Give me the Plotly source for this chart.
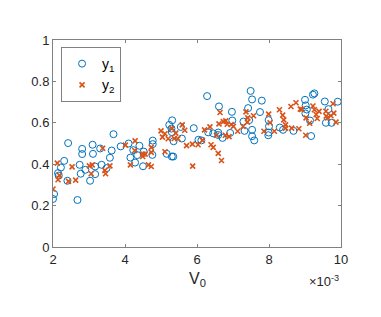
import plotly.graph_objects as go

# V0 values in units of 1e-3
y1_x = [2.00, 2.03, 2.16, 2.14, 2.22, 2.31, 2.42, 2.40, 2.68, 2.74, 2.77, 2.81, 2.81, 2.90,
        3.03, 3.10, 3.11, 3.17, 3.17, 3.31, 3.35, 3.49, 3.58, 3.63, 3.68, 3.88, 4.10, 4.15,
        4.23, 4.28, 4.34, 4.40, 4.50, 4.52, 4.76, 4.77, 4.77, 5.16, 5.23, 5.29, 5.31, 5.30,
        5.34, 5.35, 5.30, 5.55, 5.58, 5.91, 6.04, 6.12, 6.28, 6.31, 6.45, 6.59, 6.61, 6.59,
        6.71, 6.92, 6.98, 6.97, 7.29, 7.32, 7.42, 7.45, 7.49, 7.53, 7.53, 7.53, 7.59, 7.75,
        7.80, 7.99, 8.00, 7.99, 7.98, 8.30, 8.39, 8.68, 9.00, 9.02, 9.01, 9.05, 9.14, 9.17,
        9.22, 9.26, 9.55, 9.65, 9.58, 9.74, 9.91]
y1_y = [0.232, 0.256, 0.345, 0.357, 0.384, 0.416, 0.502, 0.320, 0.227, 0.397, 0.354, 0.474,
        0.449, 0.373, 0.320, 0.494, 0.450, 0.352, 0.389, 0.476, 0.397, 0.381, 0.431, 0.466,
        0.545, 0.486, 0.500, 0.432, 0.468, 0.408, 0.444, 0.489, 0.390, 0.461, 0.445, 0.497,
        0.514, 0.450, 0.590, 0.572, 0.612, 0.437, 0.437, 0.511, 0.555, 0.580, 0.524, 0.574,
        0.518, 0.515, 0.729, 0.554, 0.549, 0.553, 0.679, 0.541, 0.527, 0.551, 0.611, 0.653,
        0.606, 0.561, 0.671, 0.613, 0.754, 0.713, 0.566, 0.535, 0.515, 0.652, 0.707, 0.613,
        0.583, 0.553, 0.540, 0.577, 0.566, 0.561, 0.711, 0.684, 0.645, 0.664, 0.611, 0.536,
        0.736, 0.742, 0.703, 0.666, 0.600, 0.600, 0.702]

y2_x = [2.00, 2.12, 2.14, 2.18, 2.43, 2.53, 2.63, 3.01, 3.06, 3.09, 3.38, 3.44, 3.46, 3.58,
        4.01, 4.15, 4.28, 4.27, 4.49, 4.56, 4.50, 4.65, 4.73, 4.73, 4.73, 5.00, 5.04, 5.11,
        5.11, 5.20, 5.30, 5.41, 5.37, 5.47, 5.59, 5.66, 5.71, 5.87, 5.88, 6.03, 6.15, 6.21,
        6.36, 6.39, 6.45, 6.54, 6.59, 6.64, 6.61, 6.68, 6.73, 6.80, 6.79, 6.84, 6.89, 6.95,
        7.01, 7.13, 7.28, 7.36, 7.40, 7.41, 7.57, 7.86, 7.99, 8.03, 8.15, 8.29, 8.38, 8.41,
        8.46, 8.46, 8.63, 8.61, 8.75, 8.83, 8.87, 8.91, 9.03, 9.02, 9.13, 9.22, 9.26, 9.31,
        9.34, 9.39, 9.58, 9.59, 9.63, 9.72, 9.80, 9.78, 9.86]
y2_y = [0.280, 0.405, 0.325, 0.346, 0.317, 0.387, 0.323, 0.392, 0.354, 0.397, 0.477, 0.370,
        0.354, 0.392, 0.492, 0.397, 0.513, 0.466, 0.437, 0.449, 0.449, 0.397, 0.389, 0.481,
        0.457, 0.561, 0.531, 0.547, 0.460, 0.523, 0.572, 0.550, 0.524, 0.523, 0.590, 0.564,
        0.490, 0.497, 0.391, 0.494, 0.515, 0.566, 0.580, 0.494, 0.481, 0.540, 0.452, 0.650,
        0.595, 0.418, 0.606, 0.609, 0.540, 0.593, 0.533, 0.592, 0.583, 0.559, 0.582, 0.653,
        0.603, 0.624, 0.634, 0.559, 0.642, 0.600, 0.559, 0.663, 0.637, 0.614, 0.590, 0.574,
        0.574, 0.679, 0.697, 0.571, 0.666, 0.664, 0.624, 0.540, 0.598, 0.681, 0.663, 0.640,
        0.621, 0.655, 0.656, 0.632, 0.624, 0.634, 0.647, 0.692, 0.603]

x_ticks = [2, 4, 6, 8, 10]
x_tick_labels = ["2", "4", "6", "8", "10"]
y_ticks = [0, 0.2, 0.4, 0.6, 0.8, 1]
y_tick_labels = ["0", "0.2", "0.4", "0.6", "0.8", "1"]

FONT = "Liberation Sans, Arial, Helvetica, sans-serif"
AX = "#262626"
LINE = "#808080"

fig = go.Figure()
fig.add_trace(go.Scatter(
    x=y1_x, y=y1_y, mode="markers", name="y<sub>1</sub>",
    marker=dict(symbol="circle-open", size=7, color="#0072BD", line=dict(width=1, color="#0072BD")),
))
fig.add_trace(go.Scatter(
    x=y2_x, y=y2_y, mode="markers", name="y<sub>2</sub>",
    marker=dict(symbol="x-thin-open", size=5, color="#D95319", line=dict(width=1.6, color="#D95319")),
))

axis_common = dict(
    showline=True, linecolor=LINE, linewidth=1, mirror="ticks",
    ticks="inside", ticklen=3, tickcolor=LINE, tickwidth=1,
    showgrid=False, zeroline=False,
    tickfont=dict(family=FONT, size=13, color=AX),
)
fig.update_xaxes(range=[2, 10], tickvals=x_ticks, ticktext=x_tick_labels, **axis_common)
fig.update_yaxes(range=[0, 1], tickvals=y_ticks, ticktext=y_tick_labels, **axis_common)

# page body has an 8px margin, so figure is shrunk by 8px and margins offset
fig.update_layout(
    width=373, height=309,
    margin=dict(l=45, r=40, t=32, b=70),
    paper_bgcolor="white", plot_bgcolor="white",
    font=dict(family=FONT, size=13, color=AX),
    legend=dict(
        x=0.028, y=0.966, xanchor="left", yanchor="top",
        bgcolor="white", bordercolor=LINE, borderwidth=1,
        font=dict(family=FONT, size=14, color="black"),
        itemwidth=30, tracegroupgap=0,
    ),
    annotations=[
        dict(text="V<sub>0</sub>", x=0.5, xref="paper", y=-0.1, yref="paper",
             xanchor="center", yanchor="top", showarrow=False,
             font=dict(family=FONT, size=16, color=AX)),
        dict(text="×10<sup>-3</sup>", x=1.0, xref="paper", y=-0.115, yref="paper",
             xanchor="right", yanchor="top", showarrow=False,
             font=dict(family=FONT, size=13, color=AX)),
    ],
)

fig.write_html("out.html")
